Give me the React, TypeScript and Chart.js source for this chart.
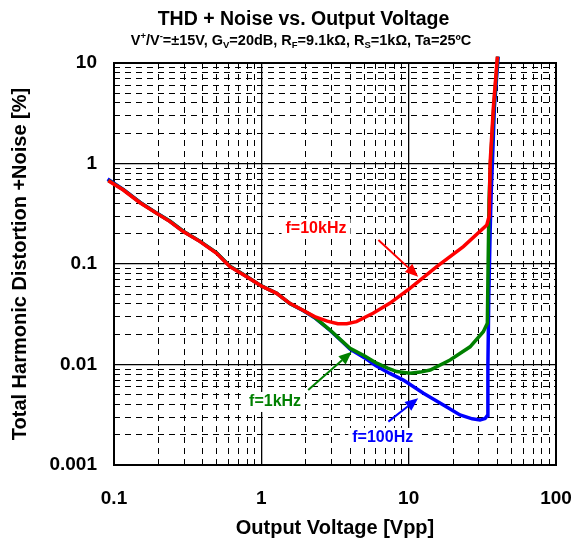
import React, { useEffect, useRef } from 'react';
import { Chart, registerables } from 'chart.js';

Chart.register(...registerables);

const FONT = '"Liberation Sans", Arial, Helvetica, sans-serif';

// Tick labels
const xTickLabels = ['0.1', '1', '10', '100'];
const yTickLabels = ['0.001', '0.01', '0.1', '1', '10'];

// f=10kHz (red)
const red10kX = [0.0915, 0.1156, 0.15, 0.195, 0.24, 0.295, 0.384, 0.497, 0.612, 0.795, 1.0, 1.27, 1.56, 1.93, 2.3, 2.8, 3.3, 3.8, 4.42, 5.73, 7.43, 10.2, 15.5, 23.5, 33.9, 35.2, 35.7, 37.6, 40.0];
const red10kY = [0.674, 0.545, 0.407, 0.319, 0.264, 0.21, 0.167, 0.128, 0.094, 0.0748, 0.0604, 0.0511, 0.0406, 0.0345, 0.03, 0.027, 0.0254, 0.0254, 0.0267, 0.0323, 0.0406, 0.0573, 0.094, 0.149, 0.244, 0.3, 1.0, 3.67, 11.6];

// f=1kHz (green)
const green1kX = [0.0915, 0.1156, 0.15, 0.195, 0.24, 0.295, 0.384, 0.497, 0.612, 0.795, 1.0, 1.27, 1.56, 1.93, 2.3, 2.93, 3.4, 4.0, 5.0, 6.07, 7.2, 8.3, 10.2, 12.0, 14.0, 19.1, 26.1, 32.1, 34.2, 34.6, 35.1, 35.9, 37.8, 40.2];
const green1kY = [0.68, 0.55, 0.41, 0.32, 0.266, 0.212, 0.168, 0.129, 0.095, 0.0752, 0.0606, 0.0512, 0.0405, 0.0345, 0.0295, 0.022, 0.018, 0.0145, 0.0122, 0.0103, 0.0092, 0.0085, 0.0082, 0.0084, 0.0088, 0.0111, 0.015, 0.0212, 0.0257, 0.094, 0.43, 1.0, 3.67, 11.6];

// f=100Hz (blue)
const blue100X = [0.0905, 0.1156, 0.15, 0.195, 0.24, 0.295, 0.384, 0.497, 0.612, 0.795, 1.0, 1.27, 1.56, 1.93, 2.3, 2.93, 3.4, 4.0, 5.0, 6.0, 7.4, 9.2, 12.6, 17.2, 22.3, 27.0, 30.5, 33.0, 34.2, 34.5, 35.0, 35.7, 36.3, 37.0, 38.2, 40.5];
const blue100Y = [0.7, 0.552, 0.412, 0.321, 0.266, 0.212, 0.168, 0.129, 0.095, 0.0752, 0.0606, 0.0512, 0.0404, 0.0343, 0.0292, 0.0218, 0.0178, 0.0142, 0.0117, 0.0097, 0.0082, 0.007, 0.00517, 0.00395, 0.00315, 0.00288, 0.0028, 0.0029, 0.0031, 0.01, 0.05, 0.2, 0.5, 1.0, 3.67, 11.6];

// Annotation labels and arrows (data coordinates)
const seriesNames = ['f=10kHz', 'f=1kHz', 'f=100Hz'];
const seriesColors = ['#ff0000', '#008000', '#0000ff'];
const labelX = [2.35, 1.24, 6.67];
const labelY = [0.223, 0.00424, 0.00186];
const arrowFromX = [6.23, 2.08, 7.28];
const arrowFromY = [0.173, 0.00557, 0.0027];
const arrowToX = [11.6, 4.11, 11.6];
const arrowToY = [0.0748, 0.0134, 0.00461];

const isMajor = (v: number) => {
  const l = Math.log10(v);
  return Math.abs(l - Math.round(l)) < 1e-6;
};

function logTicks(minExp: number, maxExp: number) {
  const t: { value: number }[] = [];
  for (let e = minExp; e < maxExp; e++) {
    for (let s = 1; s < 10; s++) t.push({ value: s * Math.pow(10, e) });
  }
  t.push({ value: Math.pow(10, maxExp) });
  return t;
}

const toPts = (xs: number[], ys: number[]) => xs.map((x, i) => ({ x, y: ys[i] }));

function drawRich(ctx: CanvasRenderingContext2D, segs: { t: string; k: string }[], cx: number, base: number) {
  const big = `bold 14.5px ${FONT}`;
  const small = `bold 9.5px ${FONT}`;
  let w = 0;
  segs.forEach((s) => {
    ctx.font = s.k === 'n' ? big : small;
    w += ctx.measureText(s.t).width;
  });
  let x = cx - w / 2;
  ctx.textAlign = 'left';
  ctx.textBaseline = 'alphabetic';
  segs.forEach((s) => {
    ctx.font = s.k === 'n' ? big : small;
    const dy = s.k === 'sup' ? -6 : s.k === 'sub' ? 3 : 0;
    ctx.fillText(s.t, x, base + dy);
    x += ctx.measureText(s.t).width;
  });
}

const decorPlugin = {
  id: 'decor',
  beforeDatasetsDraw(chart: any) {
    const { ctx, chartArea, scales } = chart;
    const xs = scales.x;
    const ys = scales.y;
    ctx.save();
    ctx.font = `bold 16px ${FONT}`;
    seriesNames.forEach((txt, i) => {
      const px = xs.getPixelForValue(labelX[i]);
      const py = ys.getPixelForValue(labelY[i]);
      const w = ctx.measureText(txt).width;
      ctx.fillStyle = '#ffffff';
      ctx.fillRect(px - w / 2 - 4, py - 10, w + 8, 20);
    });
    ctx.strokeStyle = '#000';
    ctx.lineWidth = 2;
    ctx.strokeRect(chartArea.left, chartArea.top, chartArea.right - chartArea.left, chartArea.bottom - chartArea.top);
    ctx.restore();
  },
  afterDatasetsDraw(chart: any) {
    const { ctx, scales } = chart;
    const xs = scales.x;
    const ys = scales.y;
    ctx.save();
    seriesNames.forEach((txt, i) => {
      const col = seriesColors[i];
      ctx.font = `bold 16px ${FONT}`;
      ctx.fillStyle = col;
      ctx.textAlign = 'center';
      ctx.textBaseline = 'middle';
      ctx.fillText(txt, xs.getPixelForValue(labelX[i]), ys.getPixelForValue(labelY[i]));
      const x0 = xs.getPixelForValue(arrowFromX[i]);
      const y0 = ys.getPixelForValue(arrowFromY[i]);
      const x1 = xs.getPixelForValue(arrowToX[i]);
      const y1 = ys.getPixelForValue(arrowToY[i]);
      const ang = Math.atan2(y1 - y0, x1 - x0);
      const hl = 13;
      const hw = 5.5;
      const bx = x1 - hl * Math.cos(ang);
      const by = y1 - hl * Math.sin(ang);
      ctx.strokeStyle = col;
      ctx.lineWidth = 2;
      ctx.beginPath();
      ctx.moveTo(x0, y0);
      ctx.lineTo(bx, by);
      ctx.stroke();
      ctx.fillStyle = col;
      ctx.beginPath();
      ctx.moveTo(x1, y1);
      ctx.lineTo(bx + hw * Math.sin(ang), by - hw * Math.cos(ang));
      ctx.lineTo(bx - hw * Math.sin(ang), by + hw * Math.cos(ang));
      ctx.closePath();
      ctx.fill();
    });
    ctx.restore();
  },
  afterDraw(chart: any) {
    const { ctx } = chart;
    ctx.save();
    ctx.fillStyle = '#000';
    ctx.font = `bold 19.5px ${FONT}`;
    ctx.textAlign = 'center';
    ctx.textBaseline = 'alphabetic';
    ctx.fillText('THD + Noise vs. Output Voltage', 303.5, 25);
    drawRich(
      ctx,
      [
        { t: 'V', k: 'n' },
        { t: '+', k: 'sup' },
        { t: '/V', k: 'n' },
        { t: '-', k: 'sup' },
        { t: '=±15V, G', k: 'n' },
        { t: 'V', k: 'sub' },
        { t: '=20dB, R', k: 'n' },
        { t: 'F', k: 'sub' },
        { t: '=9.1kΩ, R', k: 'n' },
        { t: 'S', k: 'sub' },
        { t: '=1kΩ, Ta=25ºC', k: 'n' },
      ],
      301,
      45
    );
    ctx.restore();
  },
};

const gridOpts = {
  color: '#000',
  lineWidth: (c: any) => (c.tick && isMajor(c.tick.value) ? 1.3 : 1),
  drawTicks: false,
};
const borderOpts = {
  display: false,
  dash: (c: any) => (c.tick && !isMajor(c.tick.value) ? [6, 5] : []),
};

const clipOpt = { left: 8, top: 10, right: 0, bottom: 0 };

export default function App() {
  const ref = useRef<HTMLCanvasElement | null>(null);
  useEffect(() => {
    if (!ref.current) return;
    const chart = new Chart(ref.current, {
      type: 'line',
      data: {
        datasets: [
          { label: seriesNames[0], data: toPts(red10kX, red10kY), borderColor: seriesColors[0], borderWidth: 3.5, pointRadius: 0, tension: 0, fill: false, clip: clipOpt as any },
          { label: seriesNames[1], data: toPts(green1kX, green1kY), borderColor: seriesColors[1], borderWidth: 3.5, pointRadius: 0, tension: 0, fill: false, clip: clipOpt as any },
          { label: seriesNames[2], data: toPts(blue100X, blue100Y), borderColor: seriesColors[2], borderWidth: 3.5, pointRadius: 0, tension: 0, fill: false, clip: clipOpt as any },
        ],
      },
      options: {
        animation: false,
        responsive: false,
        devicePixelRatio: 1,
        layout: { padding: { left: 0, right: 29, top: 63, bottom: 0 } },
        plugins: { legend: { display: false }, tooltip: { enabled: false }, title: { display: false } },
        scales: {
          x: {
            type: 'logarithmic',
            min: 0.1,
            max: 100,
            afterBuildTicks: (s: any) => {
              s.ticks = logTicks(-1, 2);
            },
            afterFit: (s: any) => {
              s.height = 79;
              s.paddingLeft = 0;
              s.paddingRight = 0;
            },
            ticks: {
              autoSkip: false,
              maxRotation: 0,
              padding: 22,
              color: '#000',
              font: { family: FONT, size: 19, weight: 'bold' },
              callback: (v: any) => {
                const n = Number(v);
                if (!isMajor(n)) return '';
                return xTickLabels[Math.round(Math.log10(n)) + 1];
              },
            },
            grid: gridOpts as any,
            border: borderOpts as any,
            title: {
              display: true,
              text: 'Output Voltage [Vpp]',
              color: '#000',
              font: { family: FONT, size: 20, weight: 'bold' },
              padding: { top: 0, bottom: 4 },
            },
          },
          y: {
            type: 'logarithmic',
            min: 0.001,
            max: 10,
            afterBuildTicks: (s: any) => {
              s.ticks = logTicks(-3, 1);
            },
            afterFit: (s: any) => {
              s.width = 114;
              s.paddingTop = 0;
              s.paddingBottom = 0;
            },
            ticks: {
              autoSkip: false,
              padding: 17,
              color: '#000',
              font: { family: FONT, size: 19, weight: 'bold' },
              callback: (v: any) => {
                const n = Number(v);
                if (!isMajor(n)) return '';
                return yTickLabels[Math.round(Math.log10(n)) + 3];
              },
            },
            grid: gridOpts as any,
            border: borderOpts as any,
            title: {
              display: true,
              text: 'Total Harmonic Distortion +Noise [%]',
              color: '#000',
              font: { family: FONT, size: 20, weight: 'bold' },
              padding: { top: 8, bottom: 0 },
            },
          },
        },
      } as any,
      plugins: [decorPlugin as any],
    });
    return () => chart.destroy();
  }, []);
  return (
    <div style={{ position: 'absolute', left: 0, top: 0, width: 585, height: 544, background: '#fff' }}>
      <canvas ref={ref} width={585} height={544} style={{ width: 585, height: 544, display: 'block' }} />
    </div>
  );
}
